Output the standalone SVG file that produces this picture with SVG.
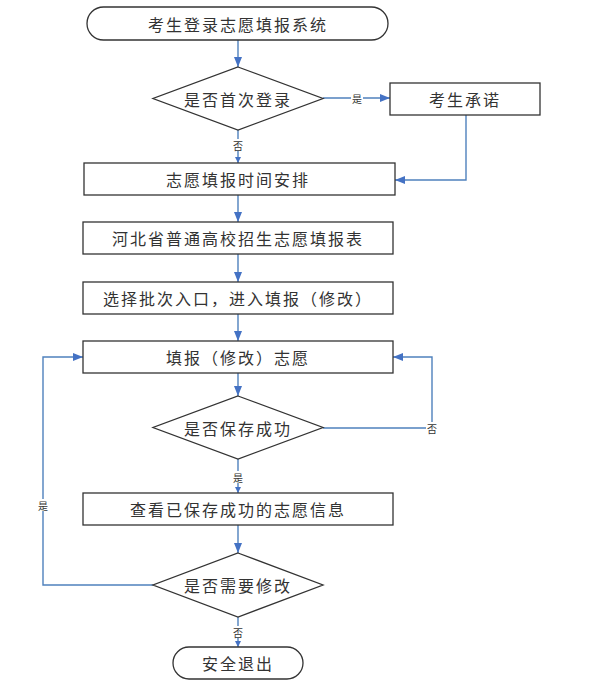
<svg xmlns="http://www.w3.org/2000/svg" width="596" height="682" viewBox="0 0 596 682">
<style>
.box{fill:#fff;stroke:#333;stroke-width:1.3}
.t{font-family:"Noto Sans CJK SC",sans-serif;font-size:16px;fill:#333;text-anchor:middle;dominant-baseline:central;letter-spacing:2px}
.lbl{font-family:"Noto Sans CJK SC",sans-serif;font-size:10px;fill:#333;text-anchor:middle;dominant-baseline:central}
.c{fill:none;stroke:#4f81bd;stroke-width:1.4}
.bg{fill:#fff}
</style>
<defs>
<marker id="a" markerUnits="userSpaceOnUse" markerWidth="10" markerHeight="8" refX="10" refY="4" orient="auto"><path d="M0,0 L10,4 L0,8 Z" fill="#4472c4"/></marker>
<marker id="s" markerUnits="userSpaceOnUse" markerWidth="6" markerHeight="6" refX="6" refY="3" orient="auto"><path d="M0,0 L6,3 L0,6 Z" fill="#4472c4"/></marker>
</defs>
<rect width="596" height="682" fill="#fff"/>
<g id="connectors">
<path class="c" d="M238,40 V67" marker-end="url(#a)"/>
<path class="c" d="M323,98 H390" marker-end="url(#a)"/>
<path class="c" d="M238,130 V163" marker-end="url(#s)"/>
<path class="c" d="M466,115 V180 H395" marker-end="url(#a)"/>
<path class="c" d="M238,195 V222" marker-end="url(#a)"/>
<path class="c" d="M238,254 V282" marker-end="url(#a)"/>
<path class="c" d="M238,314 V341" marker-end="url(#a)"/>
<path class="c" d="M238,373 V396" marker-end="url(#a)"/>
<path class="c" d="M323,428 H432 V357 H393" marker-end="url(#a)"/>
<path class="c" d="M238,459 V493" marker-end="url(#s)"/>
<path class="c" d="M238,525 V553" marker-end="url(#a)"/>
<path class="c" d="M153,585 H43 V357 H83" marker-end="url(#a)"/>
<path class="c" d="M238,617 V647" marker-end="url(#s)"/>
<rect class="bg" x="351" y="92" width="12" height="12"/>
<text class="lbl" x="357" y="98">是</text>
<rect class="bg" x="232" y="139" width="12" height="12"/>
<text class="lbl" x="238" y="145">否</text>
<rect class="bg" x="426" y="422" width="12" height="12"/>
<text class="lbl" x="432" y="428">否</text>
<rect class="bg" x="232" y="471" width="12" height="12"/>
<text class="lbl" x="238" y="477">是</text>
<rect class="bg" x="37" y="499" width="12" height="12"/>
<text class="lbl" x="43" y="505">是</text>
<rect class="bg" x="232" y="626" width="12" height="12"/>
<text class="lbl" x="238" y="632">否</text>
</g>
<g id="start"><rect class="box" x="87" y="7" width="301" height="33" rx="16.5"/><text class="t" x="238" y="24">考生登录志愿填报系统</text></g>
<g id="d1"><polygon class="box" points="238,67 323,98.5 238,130 153,98.5"/><text class="t" x="238" y="99">是否首次登录</text></g>
<g id="promise"><rect class="box" x="390" y="83" width="150" height="32"/><text class="t" x="465" y="99">考生承诺</text></g>
<g id="schedule"><rect class="box" x="84" y="163" width="311" height="32"/><text class="t" x="238" y="179">志愿填报时间安排</text></g>
<g id="form"><rect class="box" x="83" y="222" width="310" height="32"/><text class="t" x="238" y="238">河北省普通高校招生志愿填报表</text></g>
<g id="batch"><rect class="box" x="83" y="282" width="310" height="32"/><text class="t" x="238" y="298">选择批次入口，进入填报（修改）</text></g>
<g id="fill"><rect class="box" x="83" y="341" width="310" height="32"/><text class="t" x="238" y="357">填报（修改）志愿</text></g>
<g id="d2"><polygon class="box" points="238,396 323,427.5 238,459 153,427.5"/><text class="t" x="238" y="428">是否保存成功</text></g>
<g id="view"><rect class="box" x="83" y="493" width="310" height="32"/><text class="t" x="238" y="509">查看已保存成功的志愿信息</text></g>
<g id="d3"><polygon class="box" points="238,553 323,585 238,617 153,585"/><text class="t" x="238" y="585">是否需要修改</text></g>
<g id="end"><rect class="box" x="173" y="647" width="130" height="32" rx="16"/><text class="t" x="238" y="663">安全退出</text></g>
</svg>
